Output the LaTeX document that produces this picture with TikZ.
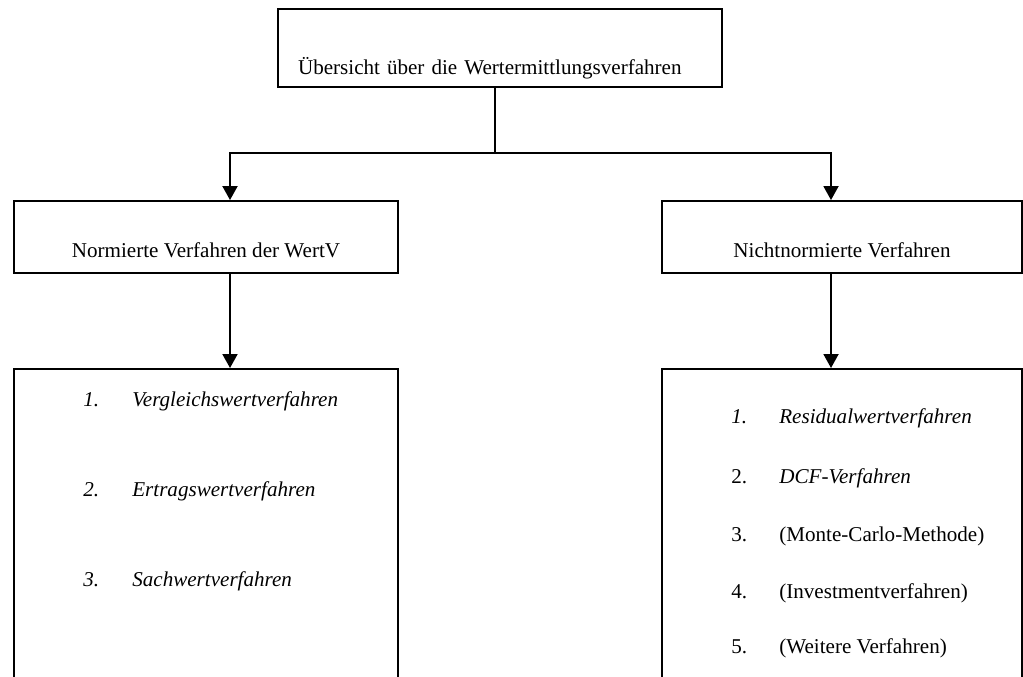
\documentclass[tikz,border=0pt]{standalone}
\usepackage{fontspec}
\setmainfont{Liberation Serif}
\usetikzlibrary{positioning,arrows.meta,calc}
\tikzset{
  wvkasten/.style={draw=black, line width=1.1pt, rectangle, inner sep=2pt, align=center,
                   font=\fontsize{12}{14.4}\selectfont},
  wvliste/.style={draw=black, line width=1.1pt, rectangle, anchor=north, minimum height=9cm},
  wvpfeil/.style={-{Triangle[width=0.3cm,length=0.28cm]}, line width=1.1pt, draw=black},
  wvlinie/.style={line width=1.1pt, draw=black},
  wvpunkt/.style={anchor=base west, inner sep=0pt, font=\fontsize{12}{14.4}\selectfont},
}
\begin{document}
\begin{tikzpicture}[x=0.02cm, y=-0.02cm]
        \useasboundingbox (0,0) rectangle (1023,676);
        \clip (0,0) rectangle (1023,676);
        % ---------------- kaesten ----------------
        \node[wvkasten, minimum width=8.88cm, minimum height=1.56cm, inner xsep=0.4cm,
              text width=8.08cm, align=left, text height=1.08cm, text depth=0pt] (top) at (500,48)
              {Übersicht über die Wertermittlungsverfahren};
        \node[wvkasten, minimum width=7.68cm, minimum height=1.44cm, text height=0.8cm, text depth=0pt] (normiert) at (206,237)
              {Normierte Verfahren der WertV};
        \node[wvkasten, minimum width=7.2cm, minimum height=1.44cm, text height=0.8cm, text depth=0pt] (nicht) at (842,237)
              {Nichtnormierte Verfahren};
        \node[wvliste, minimum width=7.68cm] (listelinks) at (206,368) {};
        \node[wvliste, minimum width=7.2cm] (listerechts) at (842,368) {};
        % ---------------- verfahren ----------------
        \node[wvpunkt, font=\fontsize{12}{14.4}\selectfont\itshape] (l1) at (83,406) {\makebox[0.98cm][l]{1.}Vergleichswertverfahren};
        \node[wvpunkt, font=\fontsize{12}{14.4}\selectfont\itshape] (l2) at (83,496) {\makebox[0.98cm][l]{2.}Ertragswertverfahren};
        \node[wvpunkt, font=\fontsize{12}{14.4}\selectfont\itshape] (l3) at (83,586) {\makebox[0.98cm][l]{3.}Sachwertverfahren};
        \node[wvpunkt, font=\fontsize{12}{14.4}\selectfont\itshape] (r1) at (731,423) {\makebox[0.96cm][l]{1.}Residualwertverfahren};
        \node[wvpunkt] (r2) at (731,483) {\makebox[0.96cm][l]{2.}\textit{DCF-Verfahren}};
        \node[wvpunkt] (r3) at (731,541) {\makebox[0.96cm][l]{3.}(Monte-Carlo-Methode)};
        \node[wvpunkt] (r4) at (731,598) {\makebox[0.96cm][l]{4.}(Investmentverfahren)};
        \node[wvpunkt] (r5) at (731,653) {\makebox[0.96cm][l]{5.}(Weitere Verfahren)};
        % ---------------- verbindungen ----------------
        \coordinate (verteiler) at (495,153);
        \coordinate (linksachse) at (230,153);
        \coordinate (rechtsachse) at (831,153);
        \draw[wvlinie] (top.south -| verteiler) -- (verteiler);
        \draw[wvpfeil] (verteiler) -| (normiert.north -| linksachse);
        \draw[wvpfeil] (verteiler) -| (nicht.north -| rechtsachse);
        \draw[wvpfeil] (normiert.south -| linksachse) -- (listelinks.north -| linksachse);
        \draw[wvpfeil] (nicht.south -| rechtsachse) -- (listerechts.north -| rechtsachse);
    \end{tikzpicture}
\end{document}
